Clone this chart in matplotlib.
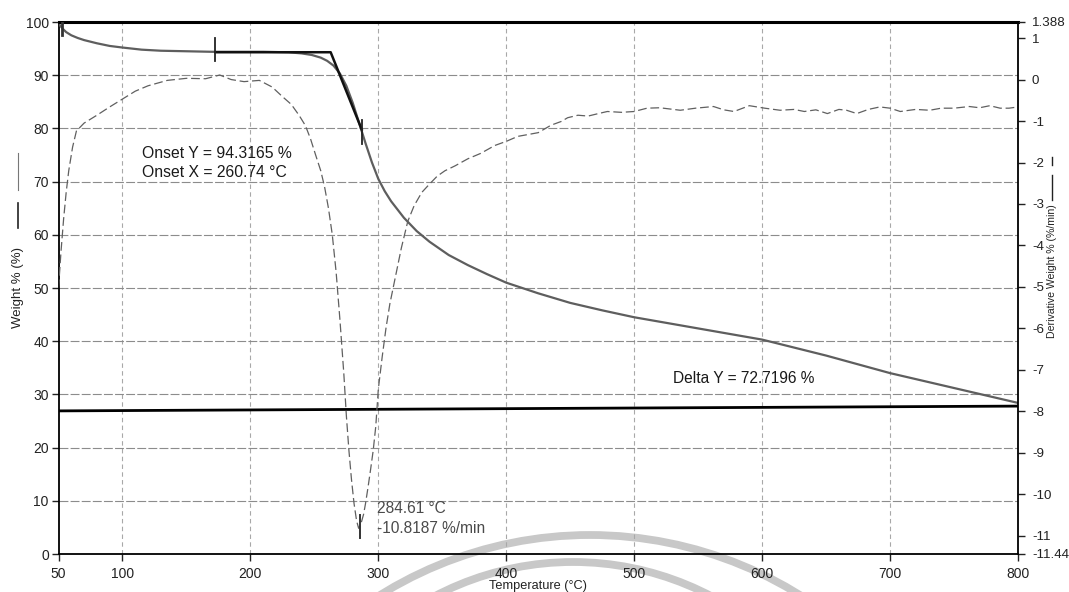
"""
TGA / DTG curve, weight loss and its derivative vs temperature
"""

import matplotlib
matplotlib.use('Agg')
import matplotlib.pyplot as plt
from matplotlib.lines import Line2D
from matplotlib.patches import Circle
import numpy as np

plt.rcParams['font.family'] = ['Liberation Sans', 'DejaVu Sans']

# weight % (left axis)
temp_w = [50, 51, 53, 56, 60, 65, 70, 80, 90, 100, 115, 130, 150, 170, 190, 210, 230,
          240, 248, 255, 260, 265, 270, 275, 280, 285, 290, 295, 300, 305, 310, 320,
          330, 340, 355, 370, 385, 400, 425, 450, 475, 500, 550, 600, 650, 700, 750, 800]
weight = [99.8, 99.4, 98.8, 98.1, 97.5, 97.0, 96.6, 96.0, 95.5, 95.2, 94.8, 94.6, 94.5,
          94.4, 94.4, 94.4, 94.3, 94.1, 93.8, 93.3, 92.7, 91.8, 90.3, 88.0, 84.8, 81.0,
          77.2, 73.6, 70.5, 68.2, 66.3, 63.2, 60.7, 58.7, 56.2, 54.3, 52.6, 51.0, 49.0,
          47.2, 45.8, 44.5, 42.4, 40.3, 37.3, 34.0, 31.2, 28.4]

# derivative weight %/min (right axis)
temp_d = [50, 52, 54, 56, 58, 61, 64, 70, 80, 90, 100, 110, 120, 135, 150, 165, 176,
          185, 195, 207, 217, 225, 232, 238, 243, 247, 251, 255, 258, 261, 264, 267,
          270, 273, 275, 277, 279, 281, 283, 284.6, 286.5, 288.5, 290, 292, 294, 296,
          298, 300, 303, 306, 309, 313, 318, 323, 328, 334, 340, 346, 352, 360, 370,
          380, 391, 400, 409, 418, 425, 435, 443, 448, 456, 464, 472, 479, 490, 500,
          510, 520, 536, 548, 562, 570, 578, 590, 602, 614, 625, 633, 642, 651, 660,
          666, 674, 683, 692, 700, 708, 720, 731, 740, 750, 762, 770, 778, 786, 793, 800]
deriv = [-5.03, -4.13, -3.36, -2.72, -2.20, -1.63, -1.24, -1.05, -0.86, -0.66, -0.47,
         -0.28, -0.15, -0.02, 0.03, 0.02, 0.11, 0.00, -0.05, -0.02, -0.18, -0.41, -0.60,
         -0.86, -1.11, -1.43, -1.82, -2.20, -2.59, -3.10, -3.74, -4.64, -5.80, -7.08,
         -8.10, -8.94, -9.64, -10.22, -10.64, -10.82, -10.70, -10.48, -10.22, -9.82,
         -9.39, -8.94, -8.36, -7.46, -6.69, -5.99, -5.41, -4.81, -4.06, -3.42, -3.04,
         -2.72, -2.52, -2.33, -2.20, -2.08, -1.91, -1.78, -1.59, -1.49, -1.37, -1.32,
         -1.28, -1.10, -1.01, -0.92, -0.86, -0.88, -0.82, -0.77, -0.79, -0.77, -0.69,
         -0.68, -0.74, -0.69, -0.65, -0.73, -0.77, -0.63, -0.69, -0.74, -0.72, -0.77,
         -0.73, -0.82, -0.72, -0.74, -0.82, -0.72, -0.66, -0.69, -0.77, -0.72, -0.74,
         -0.69, -0.69, -0.65, -0.68, -0.63, -0.69, -0.69, -0.66]

# analysis marks
onset_x, onset_y = 260.74, 94.3165
onset_start = 172.6
tangent_end = (287.0, 79.8)
delta_top, delta_bottom = (100.0, 100.0), (26.9, 27.8)
peak_t, peak_v = 284.61, -10.8187

x_ticks = [50, 100, 200, 300, 400, 500, 600, 700, 800]
left_ticks = list(range(0, 101, 10))
right_ticks = [1.388, 1, 0, -1, -2, -3, -4, -5, -6, -7, -8, -9, -10, -11, -11.44]
right_labels = ['1.388', '1', '0', '-1', '-2', '-3', '-4', '-5', '-6', '-7', '-8',
                '-9', '-10', '-11', '-11.44']

W, H = 1069, 592
fig = plt.figure(figsize=(W / 100, H / 100), dpi=100)

# scanner watermark arcs, in pixel space
bg = fig.add_axes([0, 0, 1, 1])
bg.set_xlim(0, W)
bg.set_ylim(H, 0)
bg.axis('off')
bg.set_zorder(0)
bg.add_patch(Circle((590, 932), 397, fill=False, lw=5.6, ec='#c8c8c8'))
bg.add_patch(Circle((573, 859), 297, fill=False, lw=5.6, ec='#c8c8c8'))

ax = fig.add_axes([58.5 / W, (H - 554) / H, (1018 - 58.5) / W, 532 / H])
ax.set_zorder(1)
ax.patch.set_visible(False)
ax2 = ax.twinx()
ax2.set_zorder(2)

ax.set_xlim(50, 800)
ax.set_ylim(0, 100)
ax2.set_ylim(-11.44, 1.388)

# grid
for t in x_ticks[1:-1]:
    ax.axvline(t, color='#a8a8a8', lw=0.8, ls=(0, (4, 3)), zorder=0)
for v in left_ticks[1:-1]:
    ax.axhline(v, color='#8c8c8c', lw=0.8, ls=(0, (8, 2)), zorder=0)

# curves
ax.plot(temp_w, weight, color='#5e5e5e', lw=1.6, zorder=3)
ax2.plot(temp_d, deriv, color='#606060', lw=0.9, ls=(0, (7, 3)), zorder=3)

# delta Y lines
ax.plot([50, 800], delta_top, color='black', lw=2.2, clip_on=False, zorder=4)
ax.plot([50, 800], delta_bottom, color='black', lw=2.0, zorder=4)
ax.plot([52.5, 52.5], [97.6, 100], color='#333333', lw=2.0, zorder=4)

# onset construction
ax.plot([onset_start, onset_x + 2, tangent_end[0]], [onset_y, onset_y, tangent_end[1]],
        color='#111111', lw=1.8, zorder=4)
ax.plot([onset_start, onset_start], [92.6, 97.0], color='#222222', lw=1.3, zorder=4)
ax.plot([tangent_end[0]] * 2, [77.0, 81.6], color='#222222', lw=1.3, zorder=4)
ax2.plot([peak_t + 0.7] * 2, [-11.05, -10.5], color='#333333', lw=1.4, zorder=4)

ax.text(115.6, 75.2, 'Onset Y = 94.3165 %', fontsize=11.3, color='#1a1a1a',
        va='center', ha='left')
ax.text(115.6, 71.7, 'Onset X = 260.74 °C', fontsize=11.3, color='#1a1a1a',
        va='center', ha='left')
ax.text(530, 32.9, 'Delta Y = 72.7196 %', fontsize=11.2, color='#1a1a1a',
        va='center', ha='left')
ax2.text(299.2, -10.34, '284.61 °C', fontsize=11.2, color='#4a4a4a',
         va='center', ha='left')
ax2.text(299.2, -10.82, '-10.8187 %/min', fontsize=11.2, color='#4a4a4a',
         va='center', ha='left')

# ticks and spines
ax.set_xticks(x_ticks)
ax.set_yticks(left_ticks)
ax2.set_yticks(right_ticks)
ax2.set_yticklabels(right_labels)
ax.tick_params(axis='both', direction='out', length=5, width=1.0, labelsize=10,
               colors='#222222', pad=2)
ax.tick_params(axis='x', pad=4)
ax2.tick_params(axis='y', direction='out', length=5, width=1.0, labelsize=9.6,
                colors='#222222', pad=5)
for s in ['top', 'right']:
    ax.spines[s].set_visible(False)
for s in ['top', 'left', 'bottom']:
    ax2.spines[s].set_visible(False)
for s in ['left', 'bottom']:
    ax.spines[s].set_linewidth(1.3)
ax2.spines['right'].set_linewidth(1.3)

# axis titles with their line keys
fig.text(538 / W, 1 - 586 / H, 'Temperature (°C)', fontsize=9.2, ha='center',
         va='center', color='#222222')
fig.text(18 / W, 1 - 287.5 / H, 'Weight % (%)', fontsize=9.5, rotation=90,
         ha='center', va='center', color='#222222')
fig.text(1052 / W, 1 - 271 / H, 'Derivative Weight % (%/min)', fontsize=7.6,
         rotation=90, ha='center', va='center', color='#222222')
bg.add_line(Line2D([18, 18], [203, 228], color='#222222', lw=1.2))
bg.add_line(Line2D([18, 18], [153, 190], color='#777777', lw=0.8))
bg.add_line(Line2D([1052, 1052], [157, 165], color='#222222', lw=1.0))
bg.add_line(Line2D([1052, 1052], [175, 200], color='#222222', lw=1.0))

fig.savefig('out.png', dpi=100, facecolor='white')
